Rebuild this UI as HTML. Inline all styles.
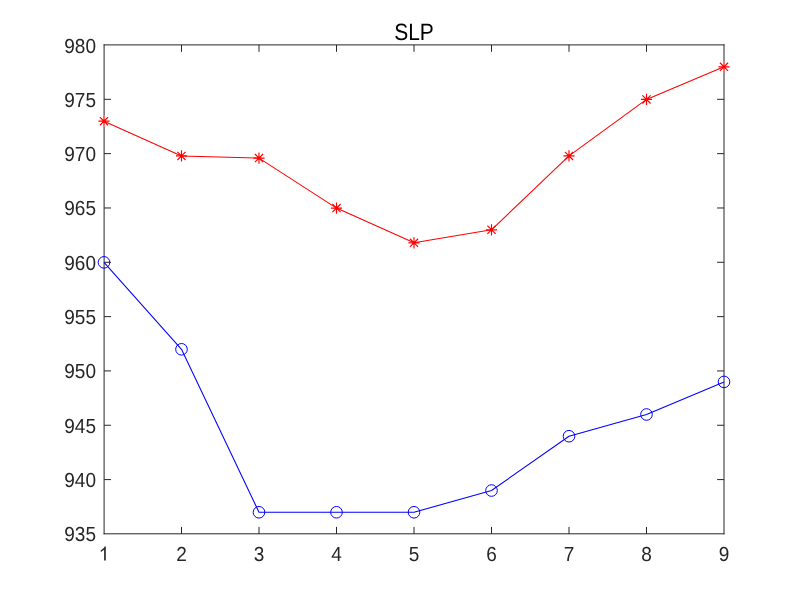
<!DOCTYPE html><html><head><meta charset="utf-8"><style>html,body{margin:0;padding:0;background:#fff;width:800px;height:600px;overflow:hidden}svg{display:block;filter:grayscale(0.0001)}text{font-family:"Liberation Sans",sans-serif;text-rendering:geometricPrecision}</style></head><body>
<svg width="800" height="600" viewBox="0 0 800 600">
<rect width="800" height="600" fill="#fff"/>
<path d="M181.50 533.8V526.90M181.50 44.9V51.80M259.00 533.8V526.90M259.00 44.9V51.80M336.50 533.8V526.90M336.50 44.9V51.80M414.00 533.8V526.90M414.00 44.9V51.80M491.50 533.8V526.90M491.50 44.9V51.80M569.00 533.8V526.90M569.00 44.9V51.80M646.50 533.8V526.90M646.50 44.9V51.80M104.1 479.58H111.00M724 479.58H717.10M104.1 425.26H111.00M724 425.26H717.10M104.1 370.93H111.00M724 370.93H717.10M104.1 316.61H111.00M724 316.61H717.10M104.1 262.29H111.00M724 262.29H717.10M104.1 207.97H111.00M724 207.97H717.10M104.1 153.64H111.00M724 153.64H717.10M104.1 99.32H111.00M724 99.32H717.10" stroke="#262626" stroke-width="1.0" fill="none"/>
<path d="M104.1 44.9H724M104.1 533.8H724M104.1 44.9V533.8M724 44.9V533.8" stroke="#262626" stroke-width="1.0" fill="none" stroke-linecap="square"/>
<text transform="translate(96 541.40) scale(1 1.07)" font-size="19" fill="#262626" text-anchor="end">935</text>
<text transform="translate(96 487.08) scale(1 1.07)" font-size="19" fill="#262626" text-anchor="end">940</text>
<text transform="translate(96 432.76) scale(1 1.07)" font-size="19" fill="#262626" text-anchor="end">945</text>
<text transform="translate(96 378.43) scale(1 1.07)" font-size="19" fill="#262626" text-anchor="end">950</text>
<text transform="translate(96 324.11) scale(1 1.07)" font-size="19" fill="#262626" text-anchor="end">955</text>
<text transform="translate(96 269.79) scale(1 1.07)" font-size="19" fill="#262626" text-anchor="end">960</text>
<text transform="translate(96 215.47) scale(1 1.07)" font-size="19" fill="#262626" text-anchor="end">965</text>
<text transform="translate(96 161.14) scale(1 1.07)" font-size="19" fill="#262626" text-anchor="end">970</text>
<text transform="translate(96 106.82) scale(1 1.07)" font-size="19" fill="#262626" text-anchor="end">975</text>
<text transform="translate(96 52.50) scale(1 1.07)" font-size="19" fill="#262626" text-anchor="end">980</text>
<path transform="translate(104.00 560.5) scale(0.009277 -0.009480) translate(-569.5 0)" fill="#262626" d="M763 0L583 0L583 1147C540 1106 483 1064 413 1023C342 972 279 931 223 900L223 1084C324 1141 412 1208 487 1275C562 1342 615 1406 646 1466L763 1466Z"/>
<text transform="translate(181.50 560.5) scale(1 1.07)" font-size="19" fill="#262626" text-anchor="middle">2</text>
<text transform="translate(259.00 560.5) scale(1 1.07)" font-size="19" fill="#262626" text-anchor="middle">3</text>
<text transform="translate(336.50 560.5) scale(1 1.07)" font-size="19" fill="#262626" text-anchor="middle">4</text>
<text transform="translate(414.00 560.5) scale(1 1.07)" font-size="19" fill="#262626" text-anchor="middle">5</text>
<text transform="translate(491.50 560.5) scale(1 1.07)" font-size="19" fill="#262626" text-anchor="middle">6</text>
<text transform="translate(569.00 560.5) scale(1 1.07)" font-size="19" fill="#262626" text-anchor="middle">7</text>
<text transform="translate(646.50 560.5) scale(1 1.07)" font-size="19" fill="#262626" text-anchor="middle">8</text>
<text transform="translate(724.00 560.5) scale(1 1.07)" font-size="19" fill="#262626" text-anchor="middle">9</text>
<text transform="translate(414 39.6) scale(1 1.12)" font-size="21" fill="#000" text-anchor="middle">SLP</text>
<polyline points="104.00,121.15 181.50,155.92 259.00,158.09 336.50,208.07 414.00,242.83 491.50,229.80 569.00,155.92 646.50,99.42 724.00,66.83" stroke="#ff0000" stroke-width="1.05" fill="none" stroke-linejoin="round"/>
<polyline points="104.00,262.39 181.50,349.30 259.00,512.27 336.50,512.27 414.00,512.27 491.50,490.54 569.00,436.22 646.50,414.49 724.00,381.90" stroke="#0000ff" stroke-width="1.05" fill="none" stroke-linejoin="round"/>
<rect x="103.00" y="115.55" width="2" height="11.20" fill="#fff"/>
<rect x="723.00" y="61.23" width="2" height="11.20" fill="#fff"/>
<path d="M98.40 121.15H109.60M104.00 115.55V126.75M99.90 117.05L108.10 125.25M99.90 125.25L108.10 117.05M175.90 155.92H187.10M181.50 150.32V161.52M177.40 151.82L185.60 160.02M177.40 160.02L185.60 151.82M253.40 158.09H264.60M259.00 152.49V163.69M254.90 153.99L263.10 162.19M254.90 162.19L263.10 153.99M330.90 208.07H342.10M336.50 202.47V213.67M332.40 203.97L340.60 212.17M332.40 212.17L340.60 203.97M408.40 242.83H419.60M414.00 237.23V248.43M409.90 238.73L418.10 246.93M409.90 246.93L418.10 238.73M485.90 229.80H497.10M491.50 224.20V235.40M487.40 225.70L495.60 233.90M487.40 233.90L495.60 225.70M563.40 155.92H574.60M569.00 150.32V161.52M564.90 151.82L573.10 160.02M564.90 160.02L573.10 151.82M640.90 99.42H652.10M646.50 93.82V105.02M642.40 95.32L650.60 103.52M642.40 103.52L650.60 95.32M718.40 66.83H729.60M724.00 61.23V72.43M719.90 62.73L728.10 70.93M719.90 70.93L728.10 62.73" stroke="#ff0000" stroke-width="1.15" fill="none"/>
<circle cx="104.00" cy="262.39" r="5.8" stroke="#0000ff" stroke-width="1.0" fill="none"/>
<circle cx="181.50" cy="349.30" r="5.8" stroke="#0000ff" stroke-width="1.0" fill="none"/>
<circle cx="259.00" cy="512.27" r="5.8" stroke="#0000ff" stroke-width="1.0" fill="none"/>
<circle cx="336.50" cy="512.27" r="5.8" stroke="#0000ff" stroke-width="1.0" fill="none"/>
<circle cx="414.00" cy="512.27" r="5.8" stroke="#0000ff" stroke-width="1.0" fill="none"/>
<circle cx="491.50" cy="490.54" r="5.8" stroke="#0000ff" stroke-width="1.0" fill="none"/>
<circle cx="569.00" cy="436.22" r="5.8" stroke="#0000ff" stroke-width="1.0" fill="none"/>
<circle cx="646.50" cy="414.49" r="5.8" stroke="#0000ff" stroke-width="1.0" fill="none"/>
<circle cx="724.00" cy="381.90" r="5.8" stroke="#0000ff" stroke-width="1.0" fill="none"/>
</svg></body></html>
